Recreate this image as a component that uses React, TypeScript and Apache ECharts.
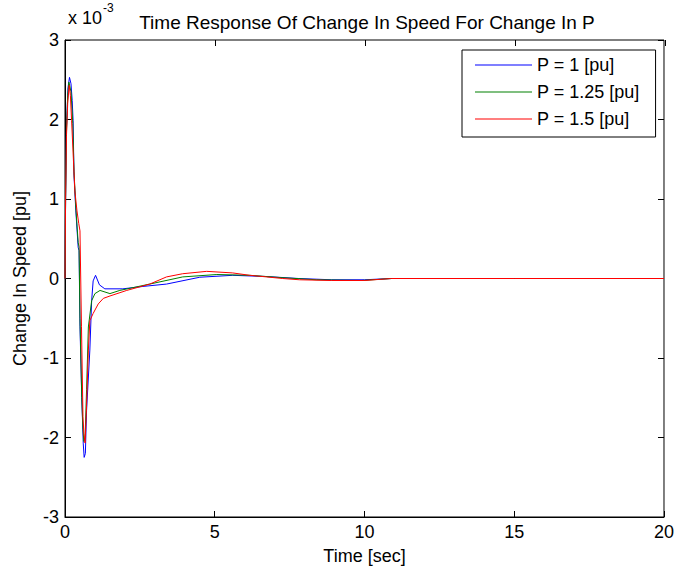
import React, { useEffect, useRef } from "react";
import * as echarts from "echarts";

// Values are in units of 1e-3 pu (the axis carries an "x 10^-3" multiplier)
const blueT = [0, 0.02, 0.05, 0.1, 0.15, 0.2, 0.24, 0.27, 0.3, 0.36, 0.44, 0.47, 0.5, 0.56, 0.61, 0.64, 0.68, 0.72, 0.83, 0.89, 0.94, 1.02, 1.15, 1.33, 1.93, 2.6, 3.39, 4.5, 5.6, 6.7, 7.8, 8.9, 10, 10.9, 15, 20];
const blueV = [0, 1.0, 1.9, 2.4, 2.53, 2.45, 2.24, 1.99, 1.3, 0.86, 0.39, 0.35, -0.6, -1.5, -2.08, -2.25, -2.2, -1.66, -0.9, -0.28, -0.03, 0.04, -0.08, -0.13, -0.13, -0.1, -0.07, 0.016, 0.04, 0.025, 0, -0.016, -0.016, 0, 0, 0];

const greenT = [0, 0.02, 0.05, 0.09, 0.13, 0.2, 0.26, 0.3, 0.36, 0.44, 0.47, 0.5, 0.56, 0.6, 0.63, 0.67, 0.72, 0.78, 0.89, 1.0, 1.17, 1.5, 1.83, 2.83, 3.93, 5.07, 6.17, 7.27, 8.4, 9.9, 10.9, 15, 20];
const greenV = [0, 1.0, 1.85, 2.3, 2.47, 2.35, 1.95, 1.35, 0.9, 0.45, 0.4, -0.5, -1.5, -1.9, -2.05, -2.0, -1.4, -0.61, -0.28, -0.19, -0.15, -0.19, -0.15, -0.07, 0.02, 0.05, 0.04, 0.01, -0.016, -0.025, 0, 0, 0];

const redT = [0, 0.02, 0.05, 0.09, 0.14, 0.18, 0.22, 0.28, 0.33, 0.4, 0.46, 0.5, 0.55, 0.6, 0.63, 0.67, 0.72, 0.78, 0.83, 0.94, 1.11, 1.28, 1.5, 2.06, 2.83, 3.39, 3.93, 4.73, 5.6, 6.17, 6.73, 7.27, 7.83, 8.9, 10, 10.9, 15, 20];
const redV = [0, 1.0, 1.8, 2.2, 2.43, 2.3, 1.99, 1.5, 1.1, 0.85, 0.69, 0.6, -0.6, -1.74, -1.95, -2.07, -1.6, -0.9, -0.53, -0.44, -0.32, -0.25, -0.22, -0.15, -0.07, 0.02, 0.06, 0.09, 0.07, 0.04, 0.02, 0, -0.016, -0.025, -0.025, 0, 0, 0];

const seriesNames = ["P = 1 [pu]", "P = 1.25 [pu]", "P = 1.5 [pu]"];
const seriesColors = ["#0000ff", "#008000", "#ff0000"];

const xMin = 0, xMax = 20, xStep = 5;
const yMin = -3, yMax = 3, yStep = 1;

const FONT = "Liberation Sans, Arial, sans-serif";

function zip(t: number[], v: number[]) {
  return t.map((x, i) => [x, v[i]]);
}

export default function App() {
  const ref = useRef<HTMLDivElement>(null);
  useEffect(() => {
    if (!ref.current) return;
    const chart = echarts.init(ref.current, undefined, { renderer: "svg" });
    const tick = { show: true, inside: true, length: 6, lineStyle: { color: "#000" } };
    const gridPos = { left: 65, right: 12, top: 40, bottom: 57 };
    const datasets = [zip(blueT, blueV), zip(greenT, greenV), zip(redT, redV)];
    chart.setOption({
      animation: false,
      backgroundColor: "#fff",
      title: {
        text: "Time Response Of Change In Speed For Change In P",
        left: 362,
        textAlign: "center",
        top: 8,
        textStyle: { fontFamily: FONT, fontSize: 19, fontWeight: "normal", color: "#000" },
      },
      grid: [
        { ...gridPos, show: true, borderColor: "#000", borderWidth: 1, backgroundColor: "transparent" },
        { ...gridPos, show: false },
      ],
      legend: {
        orient: "vertical",
        left: 462,
        top: 50,
        data: seriesNames,
        icon: "rect",
        itemWidth: 57,
        itemHeight: 1,
        itemGap: 9,
        padding: [6, 16, 9, 13],
        borderColor: "#000",
        borderWidth: 1,
        backgroundColor: "#fff",
        textStyle: { fontFamily: FONT, fontSize: 18, color: "#000", lineHeight: 18 },
      },
      xAxis: [
        {
          type: "value",
          gridIndex: 0,
          min: xMin,
          max: xMax,
          interval: xStep,
          position: "bottom",
          axisLine: { show: true, onZero: false, lineStyle: { color: "#000", width: 1 } },
          axisTick: tick,
          splitLine: { show: false },
          axisLabel: { fontFamily: FONT, fontSize: 18, color: "#000", margin: 6 },
          name: "Time [sec]",
          nameLocation: "middle",
          nameGap: 30,
          nameTextStyle: { fontFamily: FONT, fontSize: 18, color: "#000" },
        },
        {
          type: "value",
          gridIndex: 1,
          min: xMin,
          max: xMax,
          interval: xStep,
          position: "top",
          axisLine: { show: false, onZero: false },
          axisTick: tick,
          splitLine: { show: false },
          axisLabel: { show: false },
        },
      ],
      yAxis: [
        {
          type: "value",
          gridIndex: 0,
          min: yMin,
          max: yMax,
          interval: yStep,
          position: "left",
          axisLine: { show: true, onZero: false, lineStyle: { color: "#000", width: 1 } },
          axisTick: tick,
          splitLine: { show: false },
          axisLabel: { fontFamily: FONT, fontSize: 18, color: "#000", margin: 6 },
          name: "Change In Speed [pu]",
          nameLocation: "middle",
          nameGap: 36,
          nameTextStyle: { fontFamily: FONT, fontSize: 18, color: "#000" },
        },
        {
          type: "value",
          gridIndex: 0,
          min: yMin,
          max: yMax,
          interval: yStep,
          position: "right",
          axisLine: { show: false, onZero: false },
          axisTick: tick,
          splitLine: { show: false },
          axisLabel: { show: false },
        },
        {
          type: "value",
          gridIndex: 1,
          min: 1,
          max: 2,
          show: false,
        },
      ],
      graphic: [
        {
          type: "text",
          left: 68,
          top: 9,
          style: { text: "x 10", fontFamily: FONT, fontSize: 18, fill: "#000" },
        },
        {
          type: "text",
          left: 103,
          top: 2,
          style: { text: "-3", fontFamily: FONT, fontSize: 12, fill: "#000" },
        },
      ],
      series: datasets.map((d, i) => ({
        name: seriesNames[i],
        type: "line",
        xAxisIndex: 0,
        yAxisIndex: 0,
        data: d,
        symbol: "none",
        showSymbol: false,
        lineStyle: { color: seriesColors[i], width: 1 },
        itemStyle: { color: seriesColors[i] },
        z: 2 + i,
      })),
    });
    return () => chart.dispose();
  }, []);
  return <div ref={ref} style={{ width: 677, height: 574, position: "absolute", left: 0, top: 0 }} />;
}
